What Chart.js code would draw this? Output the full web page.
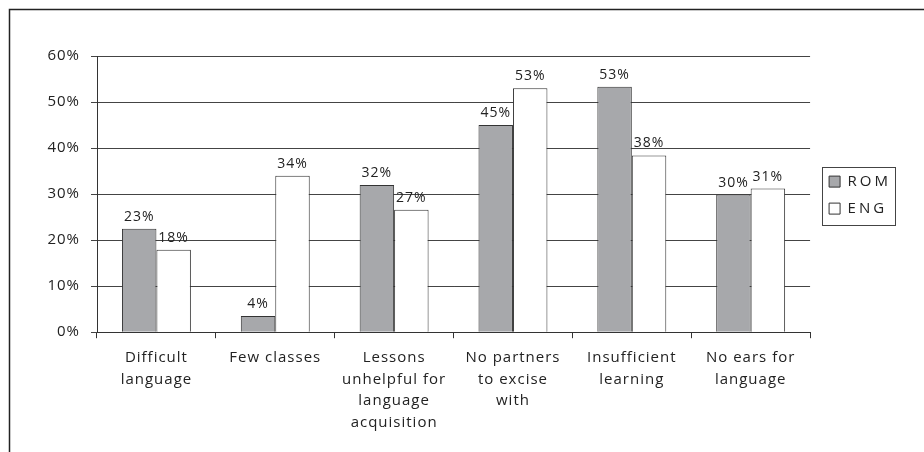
<!DOCTYPE html>
<html>
<head>
<meta charset="utf-8">
<script src="https://cdn.jsdelivr.net/npm/chart.js@4/dist/chart.umd.min.js"></script>
<style>
  body { margin: 0; background: #fff; }
  #wrap { width: 924px; height: 452px; }
</style>
</head>
<body>
<div id="wrap"><canvas id="grafico" width="924" height="452"></canvas></div>
<script>
const categorias = [
  ["Difficult", "language"],
  ["Few classes"],
  ["Lessons", "unhelpful for", "language", "acquisition"],
  ["No partners", "to excise", "with"],
  ["Insufficient", "learning"],
  ["No ears for", "language"]
];
const valoresROM = [22.5, 3.5, 32, 45, 53.3, 29.9];
const valoresENG = [17.9, 34, 26.6, 53, 38.4, 31.2];
const ticksY = [0, 10, 20, 30, 40, 50, 60];

const fuente = "'Open Sans', 'DejaVu Sans', sans-serif";

// espaciado de letras; la leyenda se centra junto al área del gráfico
const espaciado = {
  id: "espaciado",
  beforeLayout(chart) {
    chart.ctx.letterSpacing = "1px";
    const lg = chart.legend;
    if (lg && !lg._envuelto) {
      lg._envuelto = true;
      const fitOrig = lg.fit;
      const drawOrig = lg.draw;
      lg.fit = function () {
        const c = this.ctx;
        const ant = c.letterSpacing;
        c.letterSpacing = "3px";
        fitOrig.call(this);
        c.letterSpacing = ant;
      };
      lg.draw = function () {
        const c = this.ctx;
        const area = this.chart.chartArea;
        this._dy = (area.top + area.bottom) / 2 - (this.top + this.bottom) / 2 + 1;
        c.save();
        c.letterSpacing = "3px";
        c.translate(7, this._dy);
        drawOrig.call(this);
        c.restore();
      };
    }
  },
  beforeDraw(chart) {
    chart.ctx.letterSpacing = "1px";
  }
};

// marco superior e izquierdo, y caja de la leyenda
const marco = {
  id: "marco",
  afterDraw(chart) {
    const ctx = chart.ctx;
    ctx.save();
    ctx.strokeStyle = "#222";
    ctx.lineWidth = 1.5;
    ctx.beginPath();
    ctx.moveTo(9.5, 452);
    ctx.lineTo(9.5, 9.5);
    ctx.lineTo(924, 9.5);
    ctx.stroke();

    const lg = chart.legend;
    if (lg && lg.legendHitBoxes.length) {
      const cajas = lg.legendHitBoxes;
      const dy = lg._dy || 0;
      const x0 = cajas[0].left;
      const y0 = cajas[0].top + dy - 7;
      const ult = cajas[cajas.length - 1];
      const y1 = ult.top + ult.height + dy + 9;
      ctx.strokeStyle = "#444";
      ctx.lineWidth = 1;
      ctx.strokeRect(Math.round(x0) + 0.5, Math.round(y0) + 0.5, 73, Math.round(y1 - y0));
    }
    ctx.restore();
  }
};

// etiquetas de porcentaje sobre cada barra
const etiquetas = {
  id: "etiquetas",
  afterDatasetsDraw(chart) {
    const ctx = chart.ctx;
    ctx.save();
    ctx.font = "14px " + fuente;
    ctx.fillStyle = "#222";
    ctx.textAlign = "center";
    ctx.textBaseline = "bottom";
    chart.data.datasets.forEach((ds, i) => {
      chart.getDatasetMeta(i).data.forEach((bar, j) => {
        ctx.fillText(Math.round(ds.data[j]) + "%", bar.x, bar.y - 5);
      });
    });
    ctx.restore();
  }
};

new Chart(document.getElementById("grafico").getContext("2d"), {
  type: "bar",
  data: {
    labels: categorias,
    datasets: [
      {
        label: "ROM",
        data: valoresROM,
        backgroundColor: "#a7a8ab",
        borderColor: "#333",
        borderWidth: 1,
        categoryPercentage: 0.58,
        barPercentage: 1
      },
      {
        label: "ENG",
        data: valoresENG,
        backgroundColor: "#ffffff",
        borderColor: "#333",
        borderWidth: 1,
        categoryPercentage: 0.58,
        barPercentage: 1
      }
    ]
  },
  options: {
    responsive: false,
    animation: false,
    layout: { padding: { left: 20, top: 56, right: 30, bottom: 10 } },
    plugins: {
      legend: {
        position: "right",
        labels: {
          boxWidth: 11,
          boxHeight: 11,
          padding: 12,
          color: "#222",
          font: { family: fuente, size: 15 }
        }
      },
      tooltip: { enabled: false }
    },
    scales: {
      x: {
        grid: {
          display: true,
          drawOnChartArea: false,
          drawTicks: true,
          tickLength: 6,
          color: "#333"
        },
        border: { color: "#333", width: 1 },
        ticks: {
          color: "#222",
          font: { family: fuente, size: 15, lineHeight: 1.43 },
          maxRotation: 0,
          autoSkip: false,
          padding: 9
        }
      },
      y: {
        min: 0,
        max: 60,
        afterBuildTicks(scale) {
          scale.ticks = ticksY.map((v) => ({ value: v }));
        },
        afterFit(scale) {
          scale.width = 77;
        },
        grid: {
          color: "#444",
          tickLength: 6,
          lineWidth: 1
        },
        border: { color: "#333", width: 1 },
        ticks: {
          color: "#222",
          font: { family: fuente, size: 15 },
          padding: 11,
          callback: (v) => v + "%"
        }
      }
    }
  },
  plugins: [espaciado, marco, etiquetas]
});
</script>
</body>
</html>
